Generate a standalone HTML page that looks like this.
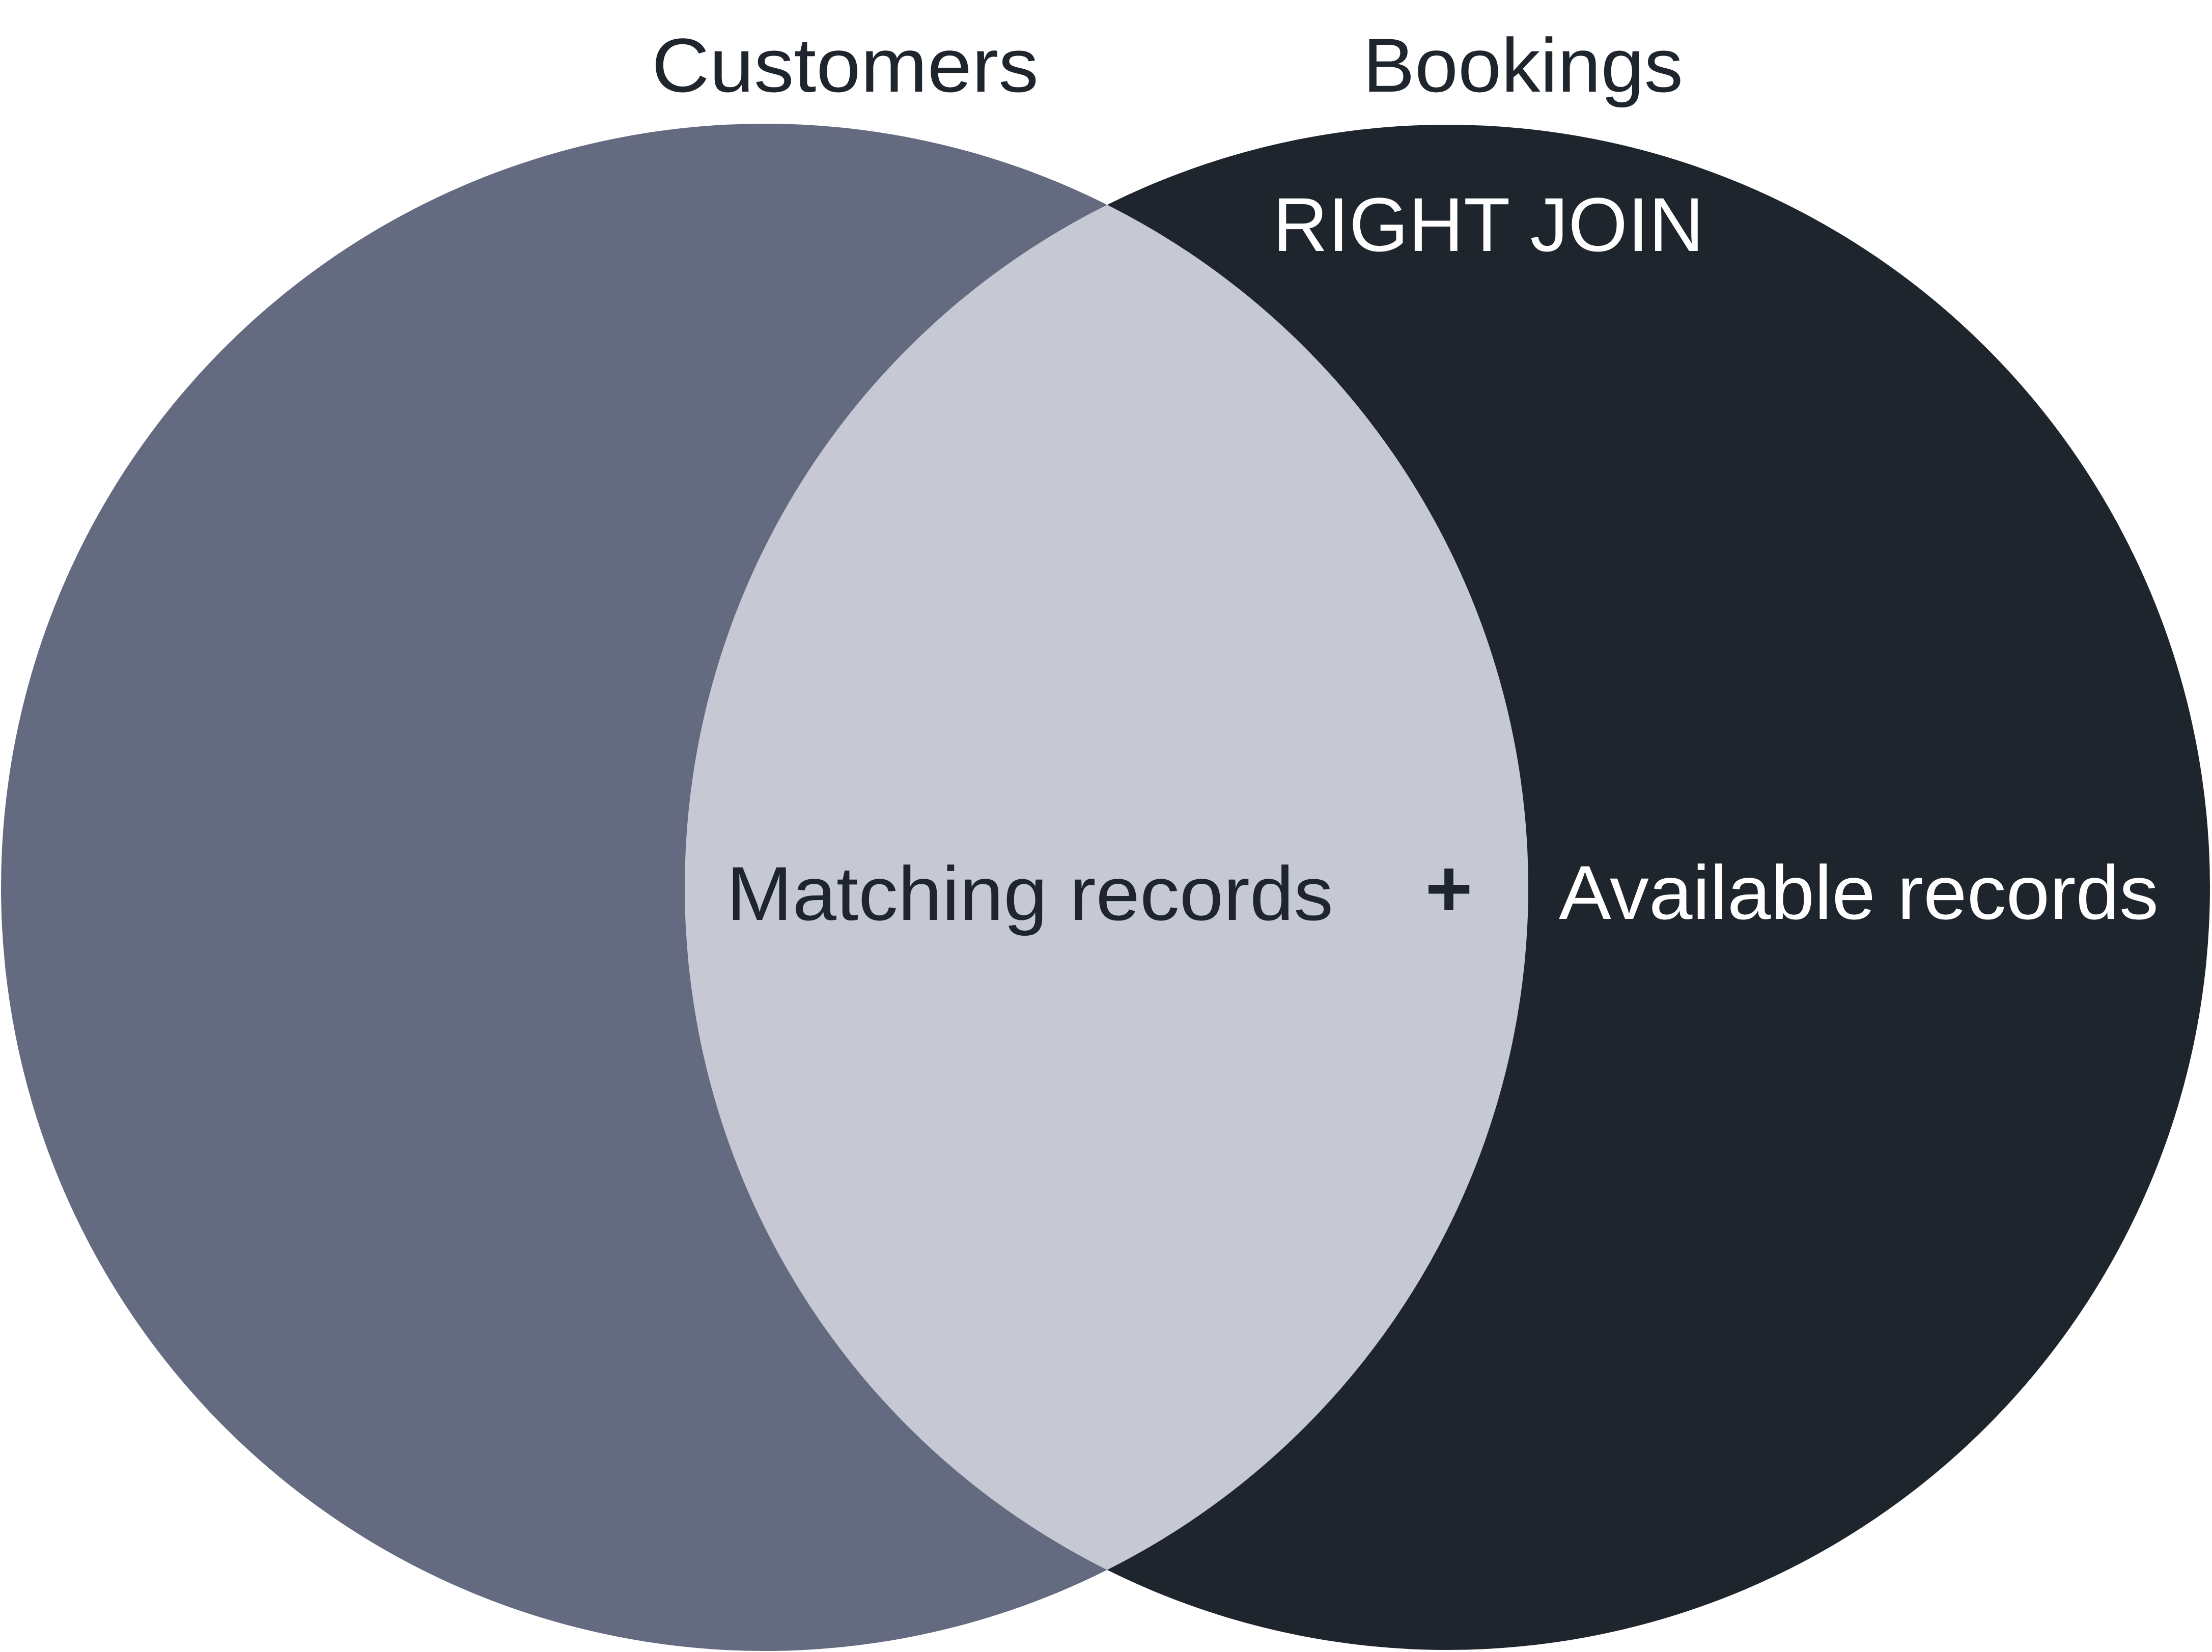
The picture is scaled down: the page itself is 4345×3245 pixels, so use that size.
<!DOCTYPE html>
<html><head><meta charset="utf-8"><style>
html,body{margin:0;padding:0;background:#fff;}
svg{display:block;}
</style></head><body>
<svg width="4345" height="3245" viewBox="0 0 4345 3245" xmlns="http://www.w3.org/2000/svg">
<defs><clipPath id="rc"><circle cx="2843" cy="1743" r="1498"/></clipPath></defs>
<rect width="4345" height="3245" fill="#fff"/>
<circle cx="2843" cy="1743" r="1498" fill="#1f252d"/>
<circle cx="1502" cy="1743" r="1500" fill="#646a80"/>
<circle cx="1502" cy="1743" r="1500" fill="#c6c8d4" clip-path="url(#rc)"/>
<g font-family="Liberation Sans, sans-serif" font-size="150">
<text x="1280" y="180" fill="#1f252d" textLength="760" lengthAdjust="spacingAndGlyphs">Customers</text>
<text x="2677" y="180" fill="#1f252d" textLength="629" lengthAdjust="spacingAndGlyphs">Bookings</text>
<text x="2500" y="493" fill="#ffffff" textLength="847" lengthAdjust="spacingAndGlyphs">RIGHT JOIN</text>
<text x="1427" y="1807" fill="#1f252d" textLength="1192" lengthAdjust="spacingAndGlyphs">Matching records</text>
<text x="2846" y="1800" fill="#1f252d" text-anchor="middle" font-weight="bold" font-size="160">+</text>
<text x="3062" y="1805" fill="#ffffff" textLength="1178" lengthAdjust="spacingAndGlyphs">Available records</text>
</g>
</svg>
</body></html>
